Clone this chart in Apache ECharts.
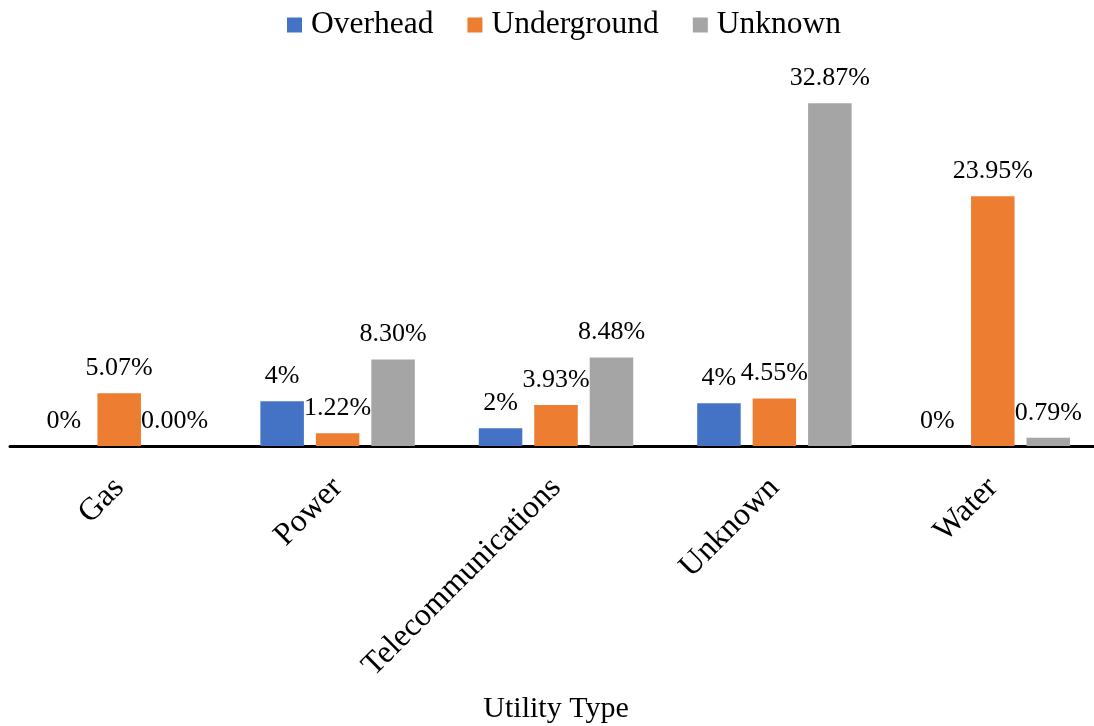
<!DOCTYPE html>
<html>
<head>
<meta charset="utf-8">
<script src="https://cdn.jsdelivr.net/npm/echarts@6/dist/echarts.min.js"></script>
<style>html,body{margin:0;padding:0;background:#fff}#c{width:1094px;height:726px}</style>
</head>
<body>
<div id="c"></div>
<script>
const categories = ['Gas', 'Power', 'Telecommunications', 'Unknown', 'Water'];
const seriesNames = ['Overhead', 'Underground', 'Unknown'];
const overhead = [0, 4.3, 1.7, 4.1, 0];
const underground = [5.07, 1.22, 3.93, 4.55, 23.95];
const unknown = [0.00, 8.30, 8.48, 32.87, 0.79];
const axisTitle = 'Utility Type';

const FONT = '"Liberation Serif", "Times New Roman", serif';
const colors = ['#4472C4', '#ED7D31', '#A5A5A5'];

function mkSeries(name, data, color, fmt) {
  return {
    name: name, type: 'bar', data: data, barWidth: 43.5, barGap: '27.5%',
    itemStyle: { color: color },
    label: {
      show: true, position: 'top', distance: 12,
      fontFamily: FONT, fontSize: 26, color: '#000',
      formatter: p => fmt(p.value)
    }
  };
}
const fmtInt = v => Math.round(v) + '%';
const fmt2 = v => v.toFixed(2) + '%';

const chart = echarts.init(document.getElementById('c'));
chart.setOption({
  animation: false,
  backgroundColor: '#fff',
  color: colors,
  legend: {
    data: seriesNames, left: 282, top: 4, icon: 'rect',
    itemWidth: 15, itemHeight: 15, itemGap: 34,
    textStyle: { fontFamily: FONT, fontSize: 31.5, color: '#000', padding: [0, 0, 0, 4] }
  },
  grid: { left: 10, right: -8, top: 81, bottom: 280, containLabel: false, outerBoundsMode: 'none' },
  xAxis: {
    type: 'category', data: categories,
    name: axisTitle, nameLocation: 'middle', nameGap: 248,
    nameTextStyle: { fontFamily: FONT, fontSize: 30, color: '#000' },
    axisLine: { lineStyle: { color: '#000', width: 3 } },
    axisTick: { show: false },
    axisLabel: { rotate: 45, margin: 37, interval: 0, fontFamily: FONT, fontSize: 32, color: '#000' }
  },
  yAxis: {
    type: 'value', min: 0, max: 35, show: false,
    splitLine: { show: false }
  },
  series: [
    mkSeries(seriesNames[0], overhead, colors[0], fmtInt),
    mkSeries(seriesNames[1], underground, colors[1], fmt2),
    mkSeries(seriesNames[2], unknown, colors[2], fmt2)
  ]
});
</script>
</body>
</html>
